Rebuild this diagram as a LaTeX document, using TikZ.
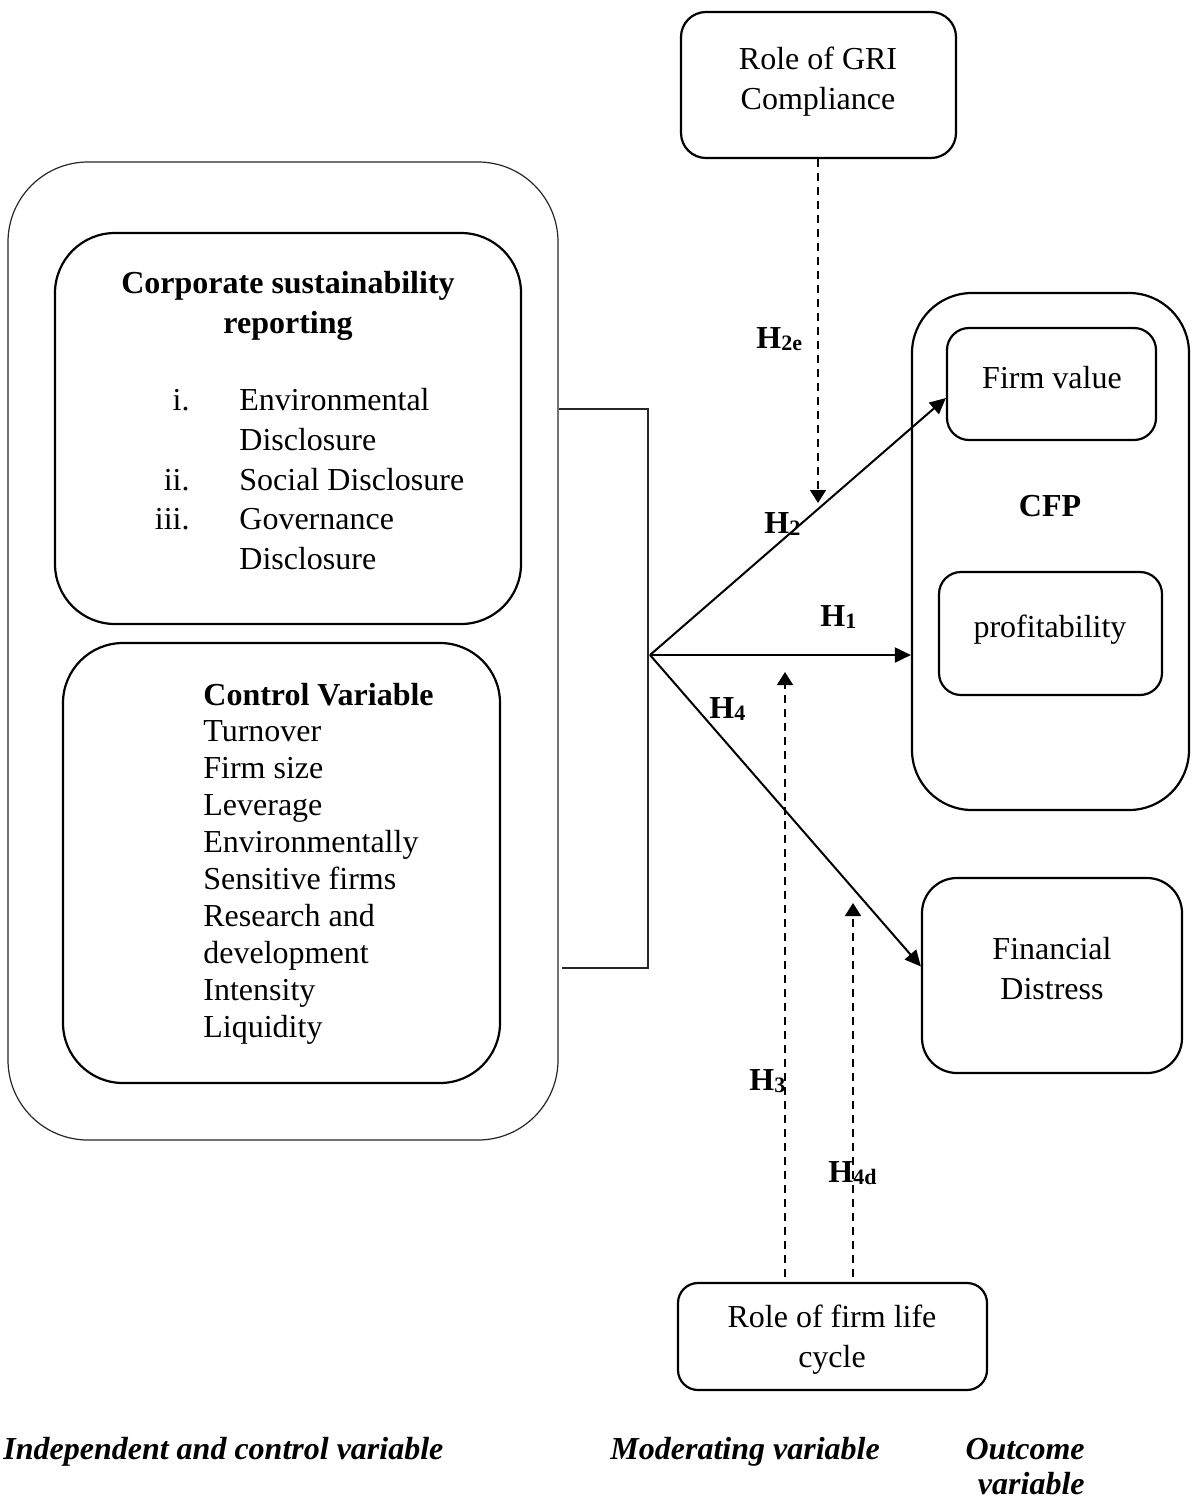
\documentclass[tikz,border=0pt]{standalone}
\usepackage{fontspec}
\setmainfont{Liberation Serif}
\usetikzlibrary{arrows.meta,calc}
\newcommand{\hsub}[1]{H\raisebox{-1.2pt}{\fontsize{11}{11}\selectfont #1}}
\begin{document}
\begin{tikzpicture}[x=0.5pt,y=-0.5pt,
  box/.style={draw, line width=1.1pt, rounded corners=#1, inner sep=0pt},
  thinbox/.style={draw=black!85, line width=0.6pt, rounded corners=#1, inner sep=0pt},
  txt/.style={inner sep=0pt, font=\fontsize{16}{20}\selectfont},
  btxt/.style={inner sep=0pt, font=\fontsize{16}{20}\selectfont\bfseries},
  foot/.style={inner sep=0pt, font=\fontsize{16}{20}\selectfont\bfseries\itshape},
  arr/.style={line width=1pt, -{Triangle[length=8pt,width=7.5pt]}},
  darr/.style={line width=0.8pt, dash pattern=on 4pt off 3pt, -{Triangle[length=6.5pt,width=8pt]}},
  bracket/.style={draw=black!85, line width=0.6pt}
]
\useasboundingbox (0,0) rectangle (1198,1499);

% ---------- left group ----------
\node[thinbox=40pt, minimum width=275pt, minimum height=489pt] (outer) at (283,651) {};
\node[box=30pt, minimum width=233pt, minimum height=195.5pt] (csr) at (288,428.5) {};
\node[box=30pt, minimum width=218.5pt, minimum height=220pt] (ctrl) at (281.5,863) {};

\node[btxt, anchor=base] (csrt1) at (288,293) {Corporate sustainability};
\node[btxt, anchor=base] (csrt2) at (288,333) {reporting};
\node[txt, anchor=base east] (n1) at (190,410) {i.};
\node[txt, anchor=base west] (e1) at (239,410) {Environmental};
\node[txt, anchor=base west] (e1b) at (239,450) {Disclosure};
\node[txt, anchor=base east] (n2) at (190,490) {ii.};
\node[txt, anchor=base west] (e2) at (239,490) {Social Disclosure};
\node[txt, anchor=base east] (n3) at (190,529) {iii.};
\node[txt, anchor=base west] (e3) at (239,529) {Governance};
\node[txt, anchor=base west] (e3b) at (239,569) {Disclosure};

\node[btxt, anchor=base west] (cvt) at (203,705) {Control Variable};
\foreach \t [count=\i] in {Turnover, Firm size, Leverage, Environmentally, Sensitive firms, Research and, development, Intensity, Liquidity}
  \node[txt, anchor=base west] (cv\i) at (203,{705+36.9*\i}) {\t};

% bracket and hub
\coordinate (btop) at (648,409);
\coordinate (bbot) at (648,968);
\coordinate (hub) at (650,655);
\draw[bracket] (outer.east |- btop) -- (btop) -- (bbot) -- (562,968);

% ---------- right group ----------
\node[box=12.5pt, minimum width=137.5pt, minimum height=73pt] (gri) at (818.5,85) {};
\node[txt, anchor=base] (grit1) at (818,69) {Role of GRI};
\node[txt, anchor=base] (grit2) at (818,109) {Compliance};

\node[box=30pt, minimum width=138.5pt, minimum height=258.5pt] (cfp) at (1050.5,551.5) {};
\node[box=11pt, minimum width=104.5pt, minimum height=56pt] (fv) at (1051.5,384) {};
\node[txt, anchor=base] (fvt) at (1052,388) {Firm value};
\node[btxt, anchor=base] (cfpt) at (1050,516) {CFP};
\node[box=11pt, minimum width=111.5pt, minimum height=61.5pt] (prof) at (1050.5,633.5) {};
\node[txt, anchor=base] (proft) at (1050,637) {profitability};

\node[box=17.5pt, minimum width=130pt, minimum height=97.5pt] (fd) at (1052,975.5) {};
\node[txt, anchor=base] (fdt1) at (1052,959) {Financial};
\node[txt, anchor=base] (fdt2) at (1052,999) {Distress};

\node[box=10pt, minimum width=154.5pt, minimum height=53.5pt] (flc) at (832.5,1336.5) {};
\node[txt, anchor=base] (flct1) at (832,1327) {Role of firm life};
\node[txt, anchor=base] (flct2) at (832,1367) {cycle};

% ---------- connectors ----------
\draw[arr] (hub) -- ($(fv.west)+(0,14)$);
\draw[arr] (hub) -- (cfp.west |- hub);
\draw[arr] (hub) -- ($(fd.west)+(0,-9)$);

\coordinate (g2) at (818,503);
\draw[darr] (gri.south -| g2) -- (g2);
\coordinate (m3) at (785,672);
\coordinate (m4) at (853,903);
\draw[darr] (m3 |- flc.north) ++(0,-5) -- (m3);
\draw[darr] (m4 |- flc.north) ++(0,-5) -- (m4);

% ---------- hypothesis labels ----------
\node[btxt, anchor=base west] (h2e) at (756,348) {\hsub{2e}};
\node[btxt, anchor=base west] (h2) at (764,533) {\hsub{2}};
\node[btxt, anchor=base west] (h1) at (820,626) {\hsub{1}};
\node[btxt, anchor=base west] (h4) at (709,718) {\hsub{4}};
\node[btxt, anchor=base west] (h3) at (749,1090) {\hsub{3}};
\node[btxt, anchor=base west] (h4d) at (828,1182) {\hsub{4d}};

% ---------- footer ----------
\node[foot, anchor=base west] (f1) at (3,1459) {Independent and control variable};
\node[foot, anchor=base west] (f2) at (610,1459) {Moderating variable};
\node[foot, anchor=base east] (f3) at (1085,1459) {Outcome};
\node[foot, anchor=base east] (f4) at (1085,1494) {variable};
\end{tikzpicture}
\end{document}
